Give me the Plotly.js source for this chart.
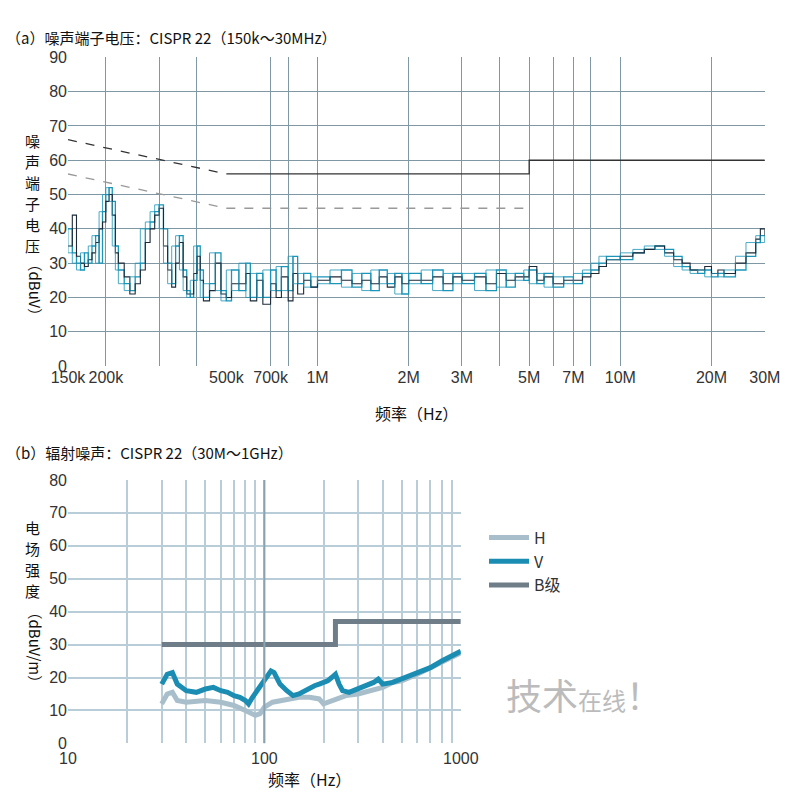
<!DOCTYPE html>
<html><head><meta charset="utf-8">
<script src="https://cdn.plot.ly/plotly-3.0.1.min.js"></script>
<style>body{margin:0;background:#fff}#myDiv{width:800px;height:808px}</style>
</head><body><div id="myDiv"></div>
<script>
// (a) 噪声端子电压 — frecuencias en MHz
let fA = [0.15,0.155,0.16,0.165,0.17,0.175,0.18,0.185,0.19,0.195,0.2,0.205,0.21,0.215,0.22,0.23,0.24,0.25,0.26,0.27,0.28,0.29,0.3,0.31,0.32,0.33,0.34,0.35,0.36,0.37,0.38,0.39,0.4,0.41,0.42,0.44,0.46,0.48,0.5,0.52,0.55,0.58,0.6,0.63,0.66,0.7,0.73,0.76,0.8,0.83,0.86,0.9,0.95,1,1.1,1.2,1.3,1.4,1.5,1.6,1.7,1.8,1.9,2,2.2,2.4,2.6,2.8,3,3.3,3.6,3.9,4.2,4.5,4.8,5,5.3,5.6,6,6.5,7,7.5,8,8.5,9,10,11,12,13,14,15,16,17,18,19,20,21,22,24,26,28,29,30];
let teal = [40,33,30,28,33,30,35,38,30,45,50,52,48,35,28,24,22,26,30,40,42,45,47,40,30,24,35,38,28,22,20,25,35,28,20,24,33,22,19,28,22,30,20,27,20,28,22,29,22,32,24,27,23,26,24,28,23,27,22,28,24,27,21,27,24,28,22,27,24,27,22,28,23,27,25,28,24,27,23,26,24,27,28,30,32,31,33,34,35,34,32,29,28,27,28,26,27,26,28,32,36,38,36];
let dark = [35,44,32,30,29,31,33,36,40,42,48,50,44,33,30,26,21,24,28,36,40,44,46,35,28,23,30,36,26,21,21,27,32,25,19,22,30,21,20,24,24,27,19,25,18,24,20,26,19,27,21,25,23,25,26,25,24,25,24,26,23,26,24,25,25,26,24,26,25,26,24,27,25,26,26,29,25,26,24,25,25,26,27,29,31,32,33,34,35,33,31,30,28,28,29,27,28,27,30,33,37,40,38];
let qpF = [0.15,0.5], qpDash = [66,56];
let qpF2 = [0.5,5,5,30], qpSolid = [56,56,60,60];
let avF = [0.15,0.5,5], avVal = [56,46,46];
let tickA = [0.15,0.2,0.5,0.7,1,2,3,5,7,10,20,30];
let tickAText = ["150k","200k","500k","700k","1M","2M","3M","5M","7M","10M","20M","30M"];
let gridA = [0.2,0.3,0.4,0.7,0.8,1,2,3,4,5,6,7,8,10,20];

// (b) 辐射噪声 — MHz
let fV = [30,32,34,36,40,45,50,55,60,65,70,75,80,83,87,92,100,108,112,120,130,140,150,160,170,180,190,200,210,220,230,240,250,270,300,330,360,380,400,450,500,550,600,700,800,900,1000];
let vVal = [18,21,21.5,18,16,15.5,16.5,17,16,15.5,14.5,14,13,12,14,16,19,22,21.5,18,16,14.5,15,16,17,17.5,18,18.5,19,20,21,18,16,15.5,16.5,17.5,18.5,19.5,18,18.5,19.5,20.5,21.5,23,25,26.5,28];
let fH = [30,32,34,36,40,50,60,70,80,85,90,95,100,110,130,150,170,190,200,210,230,260,300,350,400,450,500,600,700,800,900,1000];
let hVal = [12,15,15.5,13,12.5,13,12.5,11.5,10,9,8.5,9,11,12.5,13.5,14,14,13.5,12,12.5,13.5,14.5,15,16,17,18.5,19,21,23,24.5,26,27.5];
let bF = [30,230,230,1000], bVal = [30,30,37,37];
let tickB = [10,20,30,40,50,60,70,80,90,100,200,300,400,500,600,700,800,900,1000];
let tickBText = tickB.map(v => [10,100,1000].includes(v) ? String(v) : "");

var data = [
  {x: fA, y: teal, xaxis: "x", yaxis: "y", mode: "lines", line: {color: "#1b95b8", width: 1.3, shape: "hv"}, showlegend: false},
  {x: fA, y: dark, xaxis: "x", yaxis: "y", mode: "lines", line: {color: "#1c2a38", width: 1.1, shape: "hv"}, showlegend: false},
  {x: fA, y: teal, xaxis: "x", yaxis: "y", mode: "lines", line: {color: "#1b95b8", width: 1, shape: "vh"}, opacity: 0.8, showlegend: false},
  {x: qpF, y: qpDash, xaxis: "x", yaxis: "y", mode: "lines", line: {color: "#333", width: 1.3, dash: "dash"}, showlegend: false},
  {x: qpF2, y: qpSolid, xaxis: "x", yaxis: "y", mode: "lines", line: {color: "#333", width: 1.3}, showlegend: false},
  {x: avF, y: avVal, xaxis: "x", yaxis: "y", mode: "lines", line: {color: "#999", width: 1.3, dash: "dash"}, showlegend: false},
  {x: fH, y: hVal, xaxis: "x2", yaxis: "y2", mode: "lines", name: "H", line: {color: "#a8bfcb", width: 5}},
  {x: fV, y: vVal, xaxis: "x2", yaxis: "y2", mode: "lines", name: "V", line: {color: "#1b8db3", width: 5}},
  {x: bF, y: bVal, xaxis: "x2", yaxis: "y2", mode: "lines", name: "B级", line: {color: "#6e7d87", width: 5}}
];

var tf = {family: "Liberation Sans, Arial", size: 16, color: "#333"};
var cjk = "Noto Sans CJK SC";
var layout = {
  width: 800, height: 808,
  margin: {l: 0, r: 0, t: 0, b: 0},
  paper_bgcolor: "#fff", plot_bgcolor: "#fff",
  xaxis: {
    type: "log", domain: [0.085, 0.956], range: [Math.log10(0.15), Math.log10(30)],
    tickmode: "array", tickvals: tickA, ticktext: tickAText, tickfont: tf, tickangle: 0,
    showgrid: false, ticks: "", showline: false, zeroline: false,
    minor: {tickmode: "array", tickvals: gridA, showgrid: true, gridcolor: "#7f98a4", gridwidth: 1.3, ticks: ""}
  },
  yaxis: {
    domain: [0.547, 0.929], range: [0, 90], dtick: 10, tickfont: tf,
    gridcolor: "#7f98a4", gridwidth: 1.3, zeroline: false, showline: false, ticks: ""
  },
  xaxis2: {
    type: "log", domain: [0.085, 0.576], range: [1, 3], anchor: "y2", tickangle: 0, ticklabelstandoff: 4,
    tickmode: "array", tickvals: tickB, ticktext: tickBText, tickfont: tf,
    gridcolor: "#b9cdd8", gridwidth: 2, zeroline: false, showline: false, ticks: ""
  },
  yaxis2: {
    domain: [0.08, 0.406], range: [0, 80], dtick: 10, anchor: "x2", tickfont: tf,
    gridcolor: "#b9cdd8", gridwidth: 2, zeroline: false, showline: false, ticks: ""
  },
  legend: {x: 0.605, y: 0.305, yanchor: "middle", font: {family: cjk, size: 16, color: "#333"},
    itemwidth: 40, tracegroupgap: 8, bgcolor: "rgba(0,0,0,0)"},
  shapes: [
    {type: "line", xref: "x2", yref: "y2 domain", x0: 100, x1: 100, y0: 0, y1: 1, line: {color: "#8aa3b0", width: 2}}
  ],
  annotations: [
    {text: "（a）噪声端子电压：CISPR 22（150k～30MHz）", x: 0.005, y: 1 - 25/808, xref: "paper", yref: "paper", showarrow: false, xanchor: "left", font: {family: cjk, size: 15, color: "#111"}},
    {text: "（b）辐射噪声：CISPR 22（30M～1GHz）", x: 0.005, y: 1 - 452/808, xref: "paper", yref: "paper", showarrow: false, xanchor: "left", font: {family: cjk, size: 15, color: "#111"}},
    {text: "频率（Hz）", x: 0.52, y: 1 - 413/808, xref: "paper", yref: "paper", showarrow: false, font: {family: cjk, size: 16, color: "#111"}},
    {text: "频率（Hz）", x: 0.332, y: 1 - 793/808, xref: "paper", yref: "paper", showarrow: false, font: {family: cjk, size: 16, color: "#111"}},
    {text: "（dBuV）", textangle: 90, x: 23/800, y: 1 - 290/808, xref: "paper", yref: "paper", showarrow: false, font: {family: cjk, size: 15, color: "#111"}},
    {text: "（dBuV/m）", textangle: 90, x: 23/800, y: 1 - 692/808, xref: "paper", yref: "paper", showarrow: false, font: {family: cjk, size: 15, color: "#111"}},
    {text: "技术<span style='font-size:24px'>在线</span>！", x: 0.83, y: 1 - 722/808, xref: "paper", yref: "paper", showarrow: false, font: {family: cjk, size: 36, color: "#bbb"}}
  ]
};
// vertical stacked CJK axis titles, one character per annotation
function stack(str, y0, step) {
  [...str].forEach((c, i) => layout.annotations.push({text: c, x: 23/800, y: 1 - (y0 + i*step)/808, xref: "paper", yref: "paper", showarrow: false, font: {family: cjk, size: 15, color: "#111"}}));
}
stack("噪声端子电压", 128, 21);
stack("电场强度", 540, 21);

Plotly.newPlot("myDiv", data, layout, {displayModeBar: false});
</script></body></html>
